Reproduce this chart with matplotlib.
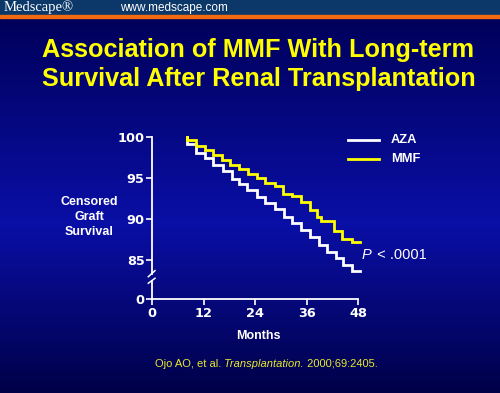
import numpy as np
import matplotlib
matplotlib.use("Agg")
import matplotlib.pyplot as plt
from matplotlib.colors import LinearSegmentedColormap

# ---- data ----
mmf_months = [8, 8, 10.2, 12.3, 14.2, 16.3, 18.2, 20.3, 22.4, 24.5, 26.3, 28.7,
              30.5, 32.6, 34.7, 36.7, 38.4, 39.3, 42.5, 44.3, 46.6, 48.4]
mmf_surv = [100, 99.6, 98.9, 98.4, 97.8, 97.2, 96.6, 96.1, 95.5, 95.0, 94.4, 94.0,
            93.1, 92.8, 92.1, 91.1, 90.3, 89.7, 88.5, 87.6, 87.2, 87.2]
aza_months = [8.2, 8.2, 10.3, 12.2, 14.1, 16.4, 18.5, 20.2, 22.2, 24.4, 26.3, 28.7,
              30.8, 32.6, 34.7, 36.7, 38.8, 40.7, 42.9, 44.6, 46.6, 48.5]
aza_surv = [100, 99.1, 98.1, 97.4, 96.6, 95.85, 94.85, 94.3, 93.5, 92.7, 91.9, 91.2,
            90.2, 89.5, 88.7, 87.8, 86.8, 86.0, 85.3, 84.4, 83.6, 83.6]
x_ticks = [0, 12, 24, 36, 48]
y_ticks = [85, 90, 95, 100]
y_zero_pos = 80.24   # where the "0" of the broken axis sits

W, H = 500, 393
fig = plt.figure(figsize=(W / 100, H / 100), dpi=100)

# ---- background ----
bg = fig.add_axes([0, 0, 1, 1])
bg.set_xlim(0, W)
bg.set_ylim(H, 0)
bg.axis("off")
cmap = LinearSegmentedColormap.from_list(
    "bgc", [(0.0, "#00005a"), (0.55, "#0a0fa6"), (1.0, "#000048")])
grad = np.linspace(0, 1, 256).reshape(-1, 1)
bg.imshow(grad, cmap=cmap, extent=[0, W, H, 17], aspect="auto", zorder=0)
bg.add_patch(plt.Rectangle((0, 0), W, 15, color="#0b3868", zorder=1))
bg.add_patch(plt.Rectangle((0, 15), W, 2.5, color="#f26a10", zorder=1))
bg.text(4, 7.5, "Medscape®", color="white", fontsize=10.5, family="Liberation Serif",
        va="center", ha="left", zorder=2)
bg.text(120, 7.5, "www.medscape.com", color="white", fontsize=8.5,
        family="Liberation Sans", va="center", ha="left", zorder=2)

# title
bg.text(258.5, 57, "Association of MMF With Long-term", color="#ffff00",
        fontsize=18.2, fontweight="bold", family="Liberation Sans",
        ha="center", va="baseline", zorder=2)
bg.text(258.5, 86, "Survival After Renal Transplantation", color="#ffff00",
        fontsize=18.2, fontweight="bold", family="Liberation Sans",
        ha="center", va="baseline", zorder=2)

# y label
bg.text(89.5, 217, "Censored\nGraft\nSurvival", color="white", fontsize=9,
        fontweight="bold", family="Liberation Sans", ha="center", va="center",
        linespacing=1.3, zorder=2)
bg.text(258, 336, "Months", color="white", fontsize=9, fontweight="bold",
        family="Liberation Sans", ha="center", va="center", zorder=2)

# citation
t1 = bg.text(155, 364, "Ojo AO, et al. ", color="#e8e830", fontsize=8,
             family="Liberation Sans", ha="left", va="center", zorder=2)
t2 = bg.annotate("Transplantation.", xy=(1, 0.5), xycoords=t1, xytext=(0, 0),
                 textcoords="offset points", color="#e8e830", fontsize=8,
                 family="Liberation Sans", style="italic", ha="left", va="center")
bg.annotate(" 2000;69:2405.", xy=(1, 0.5), xycoords=t2, xytext=(0, 0),
            textcoords="offset points", color="#e8e830", fontsize=8,
            family="Liberation Sans", ha="left", va="center")

# ---- chart axes ----
left, right, top, bottom = 152.3, 358.0, 137.0, 299.0
ax = fig.add_axes([left / W, 1 - bottom / H, (right - left) / W, (bottom - top) / H])
ax.patch.set_alpha(0)
ax.set_xlim(0, 48)
ax.set_ylim(y_zero_pos, 100)

ax.step(aza_months, aza_surv, where="post", color="white", lw=2, clip_on=False,
        solid_joinstyle="miter")
ax.step(mmf_months, mmf_surv, where="post", color="#ffff00", lw=2, clip_on=False,
        solid_joinstyle="miter")

for s in ["top", "right", "left"]:
    ax.spines[s].set_visible(False)
ax.spines["bottom"].set_color("white")
ax.spines["bottom"].set_linewidth(1.3)

# broken y axis
ax.plot([0, 0], [y_zero_pos, 82.46], color="white", lw=1.3, clip_on=False)
ax.plot([0, 0], [83.33, 100], color="white", lw=1.3, clip_on=False)
ax.plot([-0.93, 0.63], [82.96, 83.70], color="white", lw=1.1, clip_on=False)
ax.plot([-0.93, 0.63], [82.16, 82.77], color="white", lw=1.1, clip_on=False)

ax.set_xticks(x_ticks)
ax.set_xticklabels([str(v) for v in x_ticks])
ax.set_yticks([y_zero_pos] + y_ticks)
ax.set_yticklabels(["0"] + [str(v) for v in y_ticks])
ax.tick_params(colors="white", length=4, width=1.2, direction="out", pad=1.5)
for lab in ax.get_xticklabels() + ax.get_yticklabels():
    lab.set_fontweight("bold")
    lab.set_fontsize(9.3)
    lab.set_family("DejaVu Sans")
    lab.set_color("white")

# legend (manual)
bg.plot([348.3, 379.3], [140, 140], color="white", lw=2, zorder=3)
bg.plot([348.3, 379.3], [159, 159], color="#ffff00", lw=2, zorder=3)
bg.text(391, 140, "AZA", color="white", fontsize=9.3, fontweight="bold",
        family="Liberation Sans", va="center", ha="left", zorder=3)
bg.text(391, 159, "MMF", color="white", fontsize=9.3, fontweight="bold",
        family="Liberation Sans", va="center", ha="left", zorder=3)

# p value
p1 = bg.text(362, 255, "P", color="white", fontsize=10.5, style="italic",
             family="Liberation Sans", va="center", ha="left", zorder=3)
bg.annotate(" < .0001", xy=(1, 0.5), xycoords=p1, xytext=(1, 0),
            textcoords="offset points", color="white", fontsize=10.5,
            family="Liberation Sans", va="center", ha="left")

fig.savefig("out.png", dpi=100)
